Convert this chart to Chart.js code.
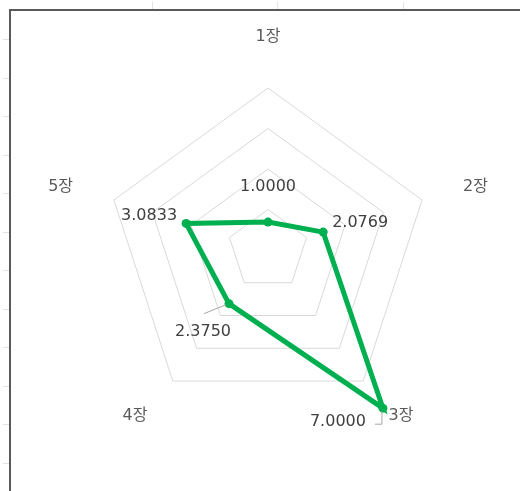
<!DOCTYPE html>
<html>
<head>
<meta charset="utf-8">
<script src="https://cdn.jsdelivr.net/npm/chart.js@4/dist/chart.umd.min.js"></script>
<style>
  html, body { margin: 0; padding: 0; background: #fff; }
  #wrap { width: 520px; height: 491px; position: relative; }
</style>
</head>
<body>
<div id="wrap"><canvas id="radarChart" width="520" height="491"></canvas></div>
<script>
// 장별 점수
const categories = ['1장', '2장', '3장', '4장', '5장'];
const scores = [1.0, 2.0769, 7.0, 2.375, 3.0833];
// 오각형 격자선 값
const gridSteps = [0, 1.45, 2.9, 4.35, 5.8];

// 값 라벨 위치 (점 기준 dx, dy) 와 지시선
const labelOffsets = [[0, -35], [37, -9], [-45, 14], [-26, 28], [-37, -8]];
const leaderLines = {
    2: [[-8, 16], [-1, 16], [-1, 3]],
    3: [[-25, 10], [-3, 1]]
};

const fontFamily = '"DejaVu Sans", "Noto Sans CJK KR", sans-serif';

// 엑셀 시트 테두리 느낌
const sheetFrame = {
    id: 'sheetFrame',
    beforeDraw(chart) {
        const c = chart.ctx;
        c.save();
        c.strokeStyle = '#e2e2e2';
        c.lineWidth = 1;
        [152, 277, 403].forEach(x => {
            c.beginPath(); c.moveTo(x + 0.5, 2); c.lineTo(x + 0.5, 9); c.stroke();
        });
        for (let y = 39; y < 480; y += 38.5) {
            c.beginPath(); c.moveTo(3, Math.round(y) + 0.5); c.lineTo(9, Math.round(y) + 0.5); c.stroke();
        }
        c.strokeStyle = '#5a5a5a';
        c.lineWidth = 2;
        c.beginPath();
        c.moveTo(10, 491);
        c.lineTo(10, 10);
        c.lineTo(520, 10);
        c.stroke();
        c.restore();
    }
};

// 축 이름 (1장 ~ 5장)
const axisNames = {
    id: 'axisNames',
    afterDraw(chart) {
        const scale = chart.scales.r;
        const c = chart.ctx;
        c.save();
        c.font = '16px ' + fontFamily;
        c.fillStyle = '#595959';
        categories.forEach((name, i) => {
            const p = scale.getPointPosition(i, scale.drawingArea + 43);
            const sx = Math.sin(p.angle + Math.PI / 2);
            const cy = -Math.cos(p.angle + Math.PI / 2);
            if (Math.abs(sx) < 0.01) {
                c.textAlign = 'center';
                c.textBaseline = cy < 0 ? 'bottom' : 'top';
            } else {
                c.textAlign = sx > 0 ? 'left' : 'right';
                c.textBaseline = 'middle';
            }
            c.fillText(name, p.x, p.y);
        });
        c.restore();
    }
};

// 값 라벨
const valueLabels = {
    id: 'valueLabels',
    afterDatasetsDraw(chart) {
        const meta = chart.getDatasetMeta(0);
        const c = chart.ctx;
        c.save();
        c.strokeStyle = '#a6a6a6';
        c.lineWidth = 1;
        Object.keys(leaderLines).forEach(k => {
            const pt = meta.data[k];
            c.beginPath();
            leaderLines[k].forEach(([dx, dy], j) => {
                const x = pt.x + dx, y = pt.y + dy;
                if (j === 0) c.moveTo(x, y); else c.lineTo(x, y);
            });
            c.stroke();
        });
        c.font = '16px ' + fontFamily;
        c.fillStyle = '#404040';
        c.textAlign = 'center';
        c.textBaseline = 'middle';
        scores.forEach((v, i) => {
            const pt = meta.data[i];
            c.fillText(v.toFixed(4), pt.x + labelOffsets[i][0], pt.y + labelOffsets[i][1]);
        });
        c.restore();
    }
};

const ctx = document.getElementById('radarChart').getContext('2d');
const radarChart = new Chart(ctx, {
    type: 'radar',
    data: {
        labels: categories,
        datasets: [{
            data: scores,
            borderColor: '#00b050',
            backgroundColor: 'rgba(0,0,0,0)',
            borderWidth: 5,
            pointRadius: 4.5,
            pointBackgroundColor: '#00b050',
            pointBorderColor: '#00b050',
            pointBorderWidth: 0,
            fill: false,
            tension: 0,
            clip: false
        }]
    },
    options: {
        responsive: false,
        animation: false,
        events: [],
        layout: { padding: { left: 106, right: 90, top: 88, bottom: 79 } },
        plugins: { legend: { display: false }, tooltip: { enabled: false } },
        scales: {
            r: {
                min: 0,
                max: 5.8,
                afterBuildTicks: scale => { scale.ticks = gridSteps.map(v => ({ value: v })); },
                ticks: { display: false },
                pointLabels: { display: false },
                angleLines: { display: false },
                grid: { color: '#d9d9d9', lineWidth: 1 }
            }
        }
    },
    plugins: [sheetFrame, axisNames, valueLabels]
});
</script>
</body>
</html>
